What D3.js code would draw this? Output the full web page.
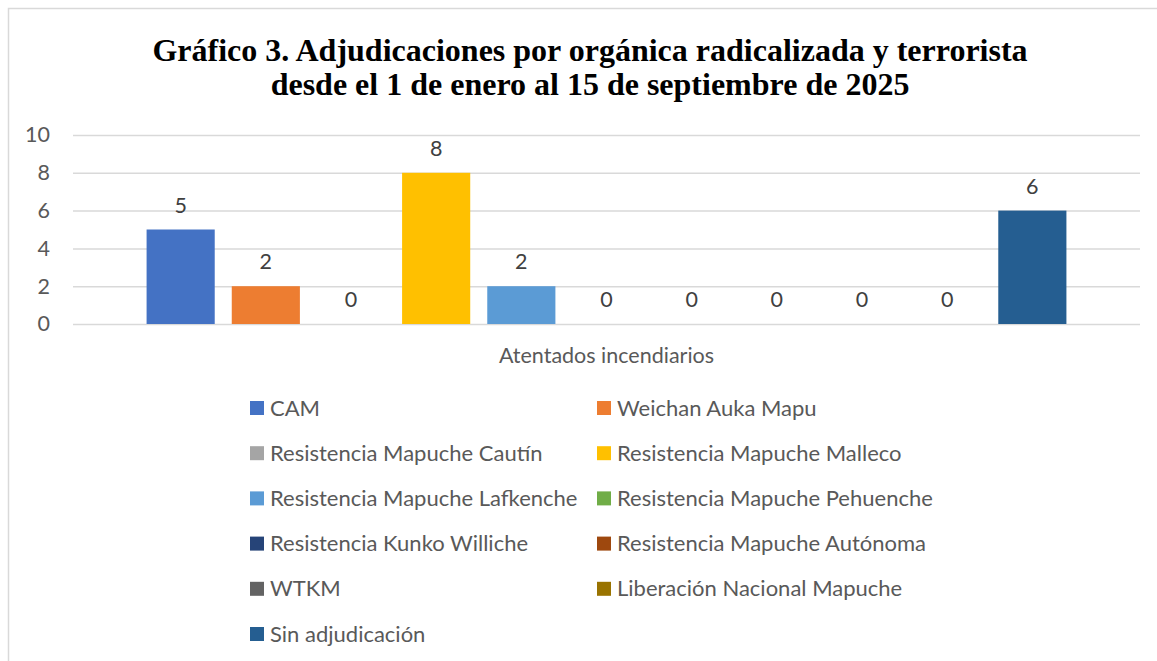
<!DOCTYPE html>
<html><head><meta charset="utf-8">
<script src="https://cdn.jsdelivr.net/npm/d3@7/dist/d3.min.js"></script>
<style>body{margin:0;background:#fff}svg{display:block}</style>
</head><body>
<svg id="c" width="1157" height="661"></svg>
<script>
const titleLines = ["Gráfico 3. Adjudicaciones por orgánica radicalizada y terrorista",
                    "desde el 1 de enero al 15 de septiembre de 2025"];
const categories = ["Atentados incendiarios"];
const seriesNames = ["CAM","Weichan Auka Mapu","Resistencia Mapuche Cautín","Resistencia Mapuche Malleco",
  "Resistencia Mapuche Lafkenche","Resistencia Mapuche Pehuenche","Resistencia Kunko Williche",
  "Resistencia Mapuche Autónoma","WTKM","Liberación Nacional Mapuche","Sin adjudicación"];
const seriesValues = [5,2,0,8,2,0,0,0,0,0,6];
const seriesColors = ["#4472C4","#ED7D31","#A5A5A5","#FFC000","#5B9BD5","#70AD47","#264478",
  "#9E480E","#636363","#997300","#255E91"];
const yTicks = [0,2,4,6,8,10];

const svg = d3.select("#c");
const sans = "Lato, 'Open Sans', sans-serif";
const fs = 21.5;

// chart border
svg.append("rect").attr("x",8.5).attr("y",8.5).attr("width",1160).attr("height",670)
  .attr("fill","#fff").attr("stroke","#d9d9d9").attr("stroke-width",1.5);

// title
svg.append("g").selectAll("text").data(titleLines).join("text")
  .attr("x",590).attr("y",(d,i)=>61+i*34).attr("text-anchor","middle")
  .attr("font-family","'Liberation Serif','Times New Roman',serif").attr("font-weight","bold")
  .attr("font-size",32).attr("fill","#000").text(d=>d);

const plot = {left:73,right:1140,top:135,bottom:324};
const y = d3.scaleLinear().domain([0,10]).range([plot.bottom,plot.top]);
const x0 = d3.scaleBand().domain(categories).range([plot.left,plot.right]).paddingInner(0).paddingOuter(0.08);
const x1 = d3.scaleBand().domain(seriesNames).range([0,x0.bandwidth()]).paddingInner(0.2).paddingOuter(0);

// gridlines
const yAxis = d3.axisLeft(y).tickValues(yTicks).tickSize(-(plot.right-plot.left)).tickPadding(23);
const ga = svg.append("g").attr("transform",`translate(${plot.left},0)`).call(yAxis);
ga.select(".domain").remove();
ga.selectAll(".tick line").attr("stroke","#d9d9d9").attr("stroke-width",1.5);
ga.selectAll(".tick text").attr("font-family",sans).attr("font-size",fs).attr("fill","#595959");

// bars
const data = seriesNames.map((n,i)=>({name:n,value:seriesValues[i],color:seriesColors[i],cat:categories[0]}));
const g = svg.append("g");
g.selectAll("rect").data(data).join("rect")
  .attr("x",d=>x0(d.cat)+x1(d.name)).attr("width",x1.bandwidth())
  .attr("y",d=>y(d.value)).attr("height",d=>y(0)-y(d.value)).attr("fill",d=>d.color);
g.selectAll("text").data(data).join("text")
  .attr("x",d=>x0(d.cat)+x1(d.name)+x1.bandwidth()/2).attr("y",d=>y(d.value)-17)
  .attr("text-anchor","middle").attr("font-family",sans).attr("font-size",fs).attr("fill","#404040")
  .text(d=>d.value);

// category axis label
svg.append("g").selectAll("text").data(categories).join("text")
  .attr("x",d=>x0(d)+x0.bandwidth()/2).attr("y",363).attr("text-anchor","middle")
  .attr("font-family",sans).attr("font-size",fs).attr("fill","#595959").text(d=>d);

// legend
const lg = svg.append("g");
const items = lg.selectAll("g").data(data).join("g")
  .attr("transform",(d,i)=>`translate(${i%2===0?250:597},${408+Math.floor(i/2)*45.2})`);
items.append("rect").attr("x",0).attr("y",-7).attr("width",14).attr("height",14).attr("fill",d=>d.color);
items.append("text").attr("x",20).attr("y",7.5).attr("font-family",sans).attr("font-size",22)
  .attr("fill","#595959").text(d=>d.name);
</script>
</body></html>
